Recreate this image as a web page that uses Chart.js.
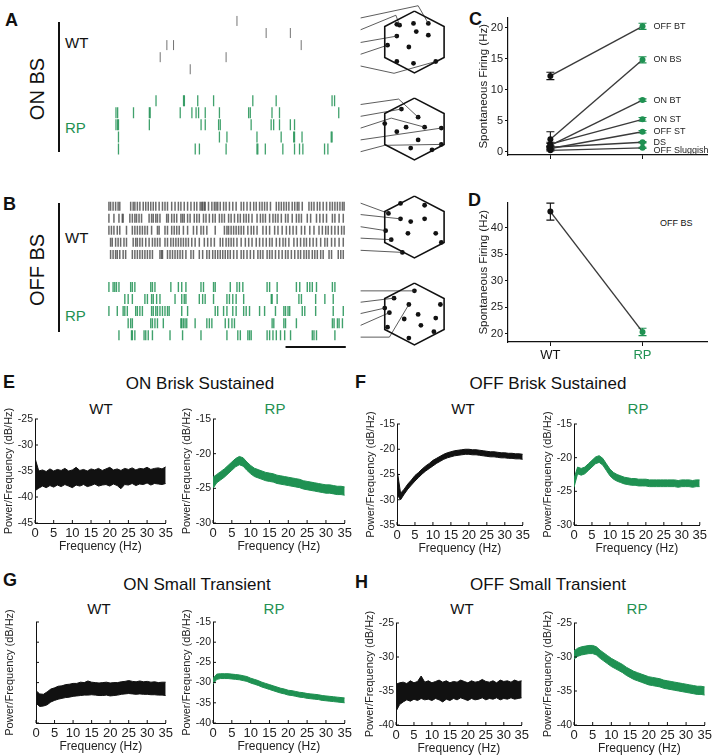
<!DOCTYPE html>
<html>
<head>
<meta charset="utf-8">
<script src="https://cdn.jsdelivr.net/npm/chart.js@4.4.1/dist/chart.umd.min.js"></script>
<style>
  body { margin: 0; background: #fff; font-family: "Liberation Sans", Arial, sans-serif; }
  #fig { position: relative; width: 712px; height: 755px; overflow: hidden; background: #fff; }
  canvas { position: absolute; }
  .t { position: absolute; white-space: nowrap; line-height: 1; color: #111; }
  .lt { font-weight: bold; font-size: 18px; }
  .ttl { font-size: 17px; transform: translateX(-50%); }
  .sub { font-size: 15px; transform: translateX(-50%); }
  .rot { font-size: 20px; transform: translate(-50%, -50%) rotate(-90deg); }
  .g { color: #1f9152; }
  .vl { position: absolute; width: 1.5px; background: #111; }
</style>
</head>
<body>
<div id="fig">
  <div class="t lt" style="left:5px;top:11px">A</div>
  <div class="t lt" style="left:3px;top:195px">B</div>
  <div class="t lt" style="left:469px;top:10px">C</div>
  <div class="t lt" style="left:468px;top:191px">D</div>
  <div class="t lt" style="left:3px;top:373px">E</div>
  <div class="t lt" style="left:355px;top:373px">F</div>
  <div class="t lt" style="left:3px;top:571px">G</div>
  <div class="t lt" style="left:355px;top:573px">H</div>

  <div class="t rot" style="left:37px;top:89px">ON BS</div>
  <div class="t rot" style="left:37px;top:270px">OFF BS</div>
  <div class="vl" style="left:58px;top:22px;height:130px"></div>
  <div class="vl" style="left:58px;top:203px;height:129px"></div>
  <div class="t" style="left:65px;top:35px;font-size:15px">WT</div>
  <div class="t g" style="left:65px;top:120px;font-size:15px">RP</div>
  <div class="t" style="left:65px;top:230px;font-size:15px">WT</div>
  <div class="t g" style="left:65px;top:308px;font-size:15px">RP</div>

  <div class="t" style="left:660px;top:219px;font-size:9px">OFF BS</div>

  <div class="t ttl" style="left:200px;top:375px">ON Brisk Sustained</div>
  <div class="t ttl" style="left:548px;top:375px">OFF Brisk Sustained</div>
  <div class="t ttl" style="left:197px;top:576px">ON Small Transient</div>
  <div class="t ttl" style="left:548px;top:576px">OFF Small Transient</div>

  <div class="t sub" style="left:101px;top:401px">WT</div>
  <div class="t sub g" style="left:275px;top:401px">RP</div>
  <div class="t sub" style="left:463px;top:401px">WT</div>
  <div class="t sub g" style="left:638px;top:401px">RP</div>
  <div class="t sub" style="left:99px;top:601px">WT</div>
  <div class="t sub g" style="left:274px;top:601px">RP</div>
  <div class="t sub" style="left:462px;top:601px">WT</div>
  <div class="t sub g" style="left:637px;top:601px">RP</div>
</div>

<script>
// ===== Data =====

// spike rasters, spike times in s (5 trials per group)
const onWtSpikes = [
  [1.56],
  [1.91, 2.20],
  [0.72, 0.80, 2.33],
  [0.64, 1.43],
  [1.00]
];
const onRpSpikes = [
  [0.59, 0.92, 0.93, 1.09, 1.28, 1.75, 2.03, 2.70, 2.73],
  [0.11, 0.13, 0.32, 0.51, 0.52, 0.88, 1.02, 1.07, 1.10, 1.18, 1.35, 1.70, 1.72, 1.98, 2.07, 2.78],
  [0.11, 0.13, 0.14, 0.51, 1.13, 1.18, 1.34, 1.36, 1.73, 1.97, 2.00, 2.07, 2.20, 2.25],
  [0.14, 1.35, 1.44, 1.80, 2.09, 2.24, 2.25, 2.34, 2.69, 2.70],
  [0.14, 1.06, 1.11, 1.43, 1.80, 1.81, 1.90, 2.11, 2.25, 2.31, 2.35, 2.61, 2.65]
];
const offWtSpikes = [
  [0.03, 0.05, 0.08, 0.11, 0.14, 0.16, 0.29, 0.32, 0.34, 0.37, 0.40, 0.44, 0.47, 0.50, 0.53, 0.56, 0.59, 0.63, 0.67, 0.70,
   0.73, 0.78, 0.82, 0.86, 0.89, 0.93, 0.97, 1.01, 1.05, 1.08, 1.12, 1.14, 1.15, 1.17, 1.18, 1.22, 1.26, 1.29, 1.31, 1.33,
   1.36, 1.40, 1.43, 1.47, 1.51, 1.55, 1.61, 1.64, 1.68, 1.72, 1.76, 1.79, 1.83, 1.86, 1.89, 1.92, 1.96, 2.03, 2.06, 2.09,
   2.12, 2.15, 2.18, 2.22, 2.25, 2.28, 2.30, 2.34, 2.42, 2.45, 2.48, 2.52, 2.55, 2.59, 2.63, 2.67, 2.70, 2.73, 2.76, 2.79, 2.82, 2.84],
  [0.03, 0.09, 0.15, 0.19, 0.20, 0.28, 0.31, 0.34, 0.36, 0.39, 0.42, 0.51, 0.54, 0.56, 0.59, 0.61, 0.64, 0.72, 0.74, 0.78,
   0.81, 0.84, 0.89, 0.91, 0.93, 0.97, 1.00, 1.05, 1.08, 1.11, 1.16, 1.19, 1.23, 1.27, 1.30, 1.35, 1.38, 1.41, 1.46, 1.49,
   1.53, 1.57, 1.60, 1.64, 1.67, 1.70, 1.74, 1.80, 1.84, 1.87, 1.90, 1.95, 1.99, 2.02, 2.05, 2.09, 2.14, 2.17, 2.22, 2.27,
   2.30, 2.33, 2.40, 2.44, 2.51, 2.55, 2.59, 2.63, 2.70, 2.73, 2.78, 2.83],
  [0.03, 0.06, 0.09, 0.13, 0.16, 0.24, 0.31, 0.34, 0.37, 0.40, 0.43, 0.46, 0.49, 0.54, 0.61, 0.63, 0.70, 0.73, 0.78, 0.81,
   0.84, 0.87, 0.92, 0.97, 1.04, 1.08, 1.13, 1.16, 1.20, 1.30, 1.41, 1.44, 1.46, 1.49, 1.52, 1.55, 1.58, 1.61, 1.64, 1.69,
   1.73, 1.76, 1.80, 1.87, 1.91, 1.95, 2.01, 2.05, 2.10, 2.15, 2.19, 2.23, 2.27, 2.33, 2.37, 2.43, 2.48, 2.54, 2.58, 2.62,
   2.65, 2.69, 2.73, 2.77, 2.81, 2.84],
  [0.05, 0.07, 0.11, 0.14, 0.17, 0.21, 0.24, 0.32, 0.35, 0.37, 0.40, 0.43, 0.47, 0.51, 0.55, 0.58, 0.61, 0.64, 0.70, 0.73,
   0.77, 0.80, 0.83, 0.86, 0.89, 0.92, 0.95, 0.98, 1.02, 1.06, 1.11, 1.17, 1.21, 1.25, 1.29, 1.36, 1.39, 1.43, 1.46, 1.49,
   1.52, 1.56, 1.61, 1.66, 1.70, 1.74, 1.79, 1.83, 1.87, 1.91, 1.95, 1.98, 2.03, 2.07, 2.11, 2.14, 2.18, 2.24, 2.28, 2.32,
   2.36, 2.39, 2.43, 2.47, 2.51, 2.56, 2.61, 2.64, 2.69, 2.73, 2.78, 2.83],
  [0.05, 0.08, 0.11, 0.13, 0.16, 0.20, 0.23, 0.31, 0.34, 0.37, 0.40, 0.43, 0.46, 0.49, 0.52, 0.55, 0.64, 0.66, 0.67, 0.73,
   0.76, 0.79, 0.82, 0.85, 0.88, 0.91, 0.95, 1.01, 1.04, 1.11, 1.15, 1.20, 1.23, 1.27, 1.30, 1.33, 1.36, 1.39, 1.42, 1.45,
   1.48, 1.52, 1.56, 1.61, 1.64, 1.68, 1.72, 1.76, 1.81, 1.84, 1.87, 1.92, 1.95, 1.98, 2.02, 2.06, 2.10, 2.14, 2.17, 2.21,
   2.25, 2.29, 2.32, 2.36, 2.39, 2.42, 2.46, 2.49, 2.52, 2.56, 2.59, 2.66, 2.69, 2.77, 2.80, 2.83]
];
const offRpSpikes = [
  [0.03, 0.08, 0.10, 0.12, 0.15, 0.29, 0.31, 0.34, 0.53, 0.55, 0.58, 0.77, 0.86, 0.90, 0.95, 1.13, 1.16, 1.28, 1.30, 1.48,
   1.56, 1.59, 1.63, 1.92, 1.95, 2.04, 2.27, 2.31, 2.40, 2.43, 2.46, 2.51, 2.70, 2.73],
  [0.22, 0.26, 0.31, 0.46, 0.49, 0.54, 0.56, 0.60, 0.64, 0.82, 0.90, 0.93, 0.95, 1.11, 1.15, 1.18, 1.28, 1.44, 1.47, 1.51,
   1.55, 1.64, 1.97, 1.98, 2.04, 2.30, 2.33, 2.50, 2.61, 2.71],
  [0.03, 0.13, 0.20, 0.22, 0.25, 0.35, 0.37, 0.40, 0.43, 0.54, 0.56, 0.59, 0.61, 0.64, 0.67, 0.70, 0.73, 0.75, 0.90, 0.97,
   1.30, 1.33, 1.40, 1.44, 1.51, 1.55, 1.64, 1.67, 1.71, 1.83, 1.89, 2.02, 2.12, 2.14, 2.17, 2.19, 2.34, 2.37, 2.50, 2.71, 2.83],
  [0.26, 0.29, 0.31, 0.53, 0.55, 0.58, 0.61, 0.68, 0.89, 0.90, 0.92, 0.94, 0.96, 1.06, 1.20, 1.23, 1.26, 1.42, 1.46, 1.50,
   1.53, 1.98, 2.00, 2.12, 2.14, 2.27, 2.70, 2.72, 2.76, 2.78, 2.82],
  [0.15, 0.30, 0.31, 0.34, 0.45, 0.47, 0.50, 0.55, 0.76, 0.91, 1.13, 1.44, 1.57, 1.60, 1.69, 1.71, 1.73, 1.92, 1.95, 1.99,
   2.03, 2.08, 2.13, 2.20, 2.46, 2.48, 2.51, 2.73]
];
const scaleBarSec = 0.72;

// recorded cell positions in the array field (hexagon-centred units)
const hexOutline = [[0, -34], [32, -17], [32, 17], [0, 34], [-32, 17], [-32, -17], [0, -34]];
const onWtCells = [[-19, -19.5], [-16, -18.5], [-1, -20.5], [15, -20.5], [-19, -6.5], [2, -11.5], [15, -7.5],
  [-29, 3.5], [-6, 5.5], [-19, 21.5], [-1, 23.5], [23, 21.5]];
const onRpCells = [[-14, -22], [4, -13], [-32, -6], [-9, -2], [11, -2], [29, -1], [-19, 3], [4, 12], [29, 17], [-4, 21], [19, 23]];
const offWtCells = [[-15, -26], [11, -24], [-28, -15], [-15, -9], [-4, -6], [11, -9], [-31, 4], [-7, 7], [23, 7],
  [-25, 14], [29, 17], [-13, 28]];
const offRpCells = [[0, -25.5], [-22, -17.5], [-6, -10.5], [28, -10.5], [-32, -6.5], [-27, -1.5], [4, 0.5], [-11, 5.5],
  [23, 4.5], [7, 12.5], [-29, 14.5], [21, 19.5], [-6, 26.5]];
const onWtLinks = [[[-58, -26.5], [4, -40], [15, -20.5]], [[-58, -13.5], [-20, -29.5], [-16, -18.5]],
  [[-58, 0.5], [-19, -6.5]], [[-58, 13.5], [-29, 3.5]], [[-58, 26.5], [-22, 34.5], [23, 21.5]]];
const onRpLinks = [[[-58, -27], [-17, -33], [4, -13]], [[-58, -14], [-14, -22]], [[-58, -1], [-25, -12], [11, -2]],
  [[-58, 12], [29, -1]], [[-58, 25], [-32, 18], [29, 17]]];
const offWtLinks = [[[-58, -26.3], [-28, -15]], [[-58, -13.7], [-15, -9]], [[-58, -0.3], [-31, 4]],
  [[-58, 12.3], [-25, 14]], [[-58, 25.7], [-13, 28]]];
const offRpLinks = [[[-58, -25.5], [0, -25.5]], [[-58, -13], [-22, -17.5]], [[-58, -0.5], [-32, -6.5]],
  [[-58, 12.5], [-27, -1.5]], [[-58, 25.5], [-27, 25.5], [-6, -10.5]]];

// C: spontaneous firing (Hz), mean and SEM
const cellTypes = ['OFF BT', 'ON BS', 'ON BT', 'ON ST', 'OFF ST', 'DS', 'OFF Sluggish'];
const wtRate = [12.2, 2.0, 1.0, 1.2, 0.5, 0.7, 0.2];
const wtSem = [0.6, 1.2, 0.3, 0.3, 0.2, 0.2, 0.1];
const rpRate = [20.2, 14.8, 8.3, 5.2, 3.2, 1.5, 0.6];
const rpSem = [0.5, 0.5, 0.2, 0.3, 0.2, 0.1, 0.1];

// D: OFF BS spontaneous firing (Hz)
const groups = ['WT', 'RP'];
const offBsRate = [43.0, 20.3];
const offBsSem = [1.6, 0.7];

// E-H: power spectral density (dB/Hz), upper and lower edge of the trace
const freqHz = [0, 1, 2, 3, 4, 5, 6, 7, 8, 9, 10, 11, 12, 13, 14, 15, 16, 17, 18, 19, 20, 21, 22, 23, 24, 25, 26, 27, 28, 29, 30, 31, 32, 33, 34, 35];
const freqTicks = [0, 5, 10, 15, 20, 25, 30, 35];

const onBsWtHi = [-32.5,-35.0,-34.8,-35.1,-34.6,-35.0,-34.7,-34.9,-34.5,-35.0,-34.8,-34.3,-34.9,-34.7,-35.0,-34.6,-34.8,-34.5,-34.9,-34.6,-34.3,-34.8,-34.6,-34.9,-34.5,-34.7,-34.4,-34.8,-34.5,-34.6,-34.3,-34.7,-34.5,-34.4,-34.6,-34.2];
const onBsWtLo = [-38.8,-38.3,-37.9,-38.2,-37.8,-38.1,-37.7,-38.0,-37.6,-37.9,-38.2,-37.7,-37.9,-37.6,-38.0,-37.8,-37.5,-37.9,-37.7,-37.6,-37.9,-37.5,-37.8,-38.4,-37.6,-37.7,-37.4,-37.8,-37.5,-37.6,-37.3,-37.7,-37.4,-37.5,-37.6,-37.4];
const onBsRpHi = [-23.4,-23.0,-22.6,-22.2,-21.7,-21.2,-20.7,-20.4,-20.6,-21.2,-21.7,-22.1,-22.3,-22.5,-22.7,-22.8,-22.9,-23.1,-23.2,-23.3,-23.4,-23.5,-23.6,-23.7,-23.9,-24.0,-24.1,-24.2,-24.3,-24.4,-24.5,-24.5,-24.6,-24.7,-24.7,-24.8];
const onBsRpLo = [-25.0,-24.2,-23.8,-23.4,-22.9,-22.4,-21.9,-21.6,-21.8,-22.4,-22.9,-23.3,-23.5,-23.7,-23.9,-24.0,-24.1,-24.3,-24.4,-24.5,-24.6,-24.7,-24.8,-24.9,-25.1,-25.2,-25.3,-25.4,-25.5,-25.6,-25.7,-25.7,-25.8,-25.9,-25.9,-26.0];

const offBsWtHi = [-24.0,-28.7,-27.9,-26.9,-26.1,-25.2,-24.6,-23.9,-23.3,-22.8,-22.2,-21.8,-21.4,-21.0,-20.7,-20.5,-20.3,-20.2,-20.1,-20.0,-20.0,-20.1,-20.1,-20.2,-20.3,-20.4,-20.5,-20.5,-20.6,-20.7,-20.7,-20.8,-20.8,-20.9,-20.9,-21.0];
const offBsWtLo = [-29.0,-30.0,-28.9,-27.9,-27.1,-26.3,-25.6,-24.9,-24.3,-23.8,-23.3,-22.8,-22.4,-22.0,-21.7,-21.5,-21.3,-21.2,-21.1,-21.0,-21.0,-21.1,-21.1,-21.2,-21.3,-21.4,-21.5,-21.5,-21.6,-21.7,-21.7,-21.8,-21.8,-21.9,-21.9,-22.0];
const offBsRpHi = [-23.1,-21.4,-21.6,-21.4,-20.9,-20.4,-19.9,-19.7,-20.1,-20.9,-21.7,-22.2,-22.5,-22.7,-22.9,-23.0,-23.1,-23.1,-23.2,-23.2,-23.2,-23.3,-23.3,-23.3,-23.3,-23.3,-23.3,-23.3,-23.3,-23.4,-23.3,-23.3,-23.3,-23.4,-23.3,-23.3];
const offBsRpLo = [-24.4,-22.4,-22.6,-22.4,-21.9,-21.4,-20.9,-20.7,-21.1,-21.9,-22.7,-23.2,-23.5,-23.7,-23.9,-24.0,-24.1,-24.1,-24.2,-24.2,-24.2,-24.3,-24.3,-24.3,-24.3,-24.3,-24.3,-24.3,-24.3,-24.4,-24.3,-24.3,-24.3,-24.4,-24.3,-24.3];

const onStWtHi = [-32.0,-32.8,-32.9,-32.3,-31.6,-31.3,-30.9,-30.8,-30.5,-30.4,-30.2,-30.2,-29.9,-30.0,-29.6,-29.9,-30.0,-30.1,-30.0,-29.9,-30.1,-30.0,-30.0,-29.8,-29.7,-29.5,-29.7,-29.8,-29.6,-29.8,-29.7,-29.9,-29.8,-30.0,-29.9,-29.9];
const onStWtLo = [-35.1,-35.9,-35.8,-35.5,-34.8,-34.4,-34.1,-33.9,-33.7,-33.6,-33.4,-33.3,-33.2,-33.1,-33.1,-33.0,-33.1,-33.2,-33.2,-33.1,-33.3,-33.2,-33.1,-32.9,-32.8,-32.7,-32.8,-32.9,-32.8,-32.9,-32.9,-33.0,-33.0,-33.1,-33.1,-33.2];
const onStRpHi = [-29.0,-27.9,-27.8,-27.8,-27.8,-27.9,-28.0,-28.1,-28.3,-28.5,-28.9,-29.2,-29.5,-29.9,-30.2,-30.5,-30.8,-31.1,-31.4,-31.6,-31.9,-32.0,-32.2,-32.4,-32.5,-32.7,-32.8,-32.9,-33.0,-33.2,-33.3,-33.4,-33.5,-33.6,-33.7,-33.8];
const onStRpLo = [-30.4,-29.2,-29.0,-29.0,-29.0,-29.1,-29.2,-29.3,-29.5,-29.7,-30.1,-30.4,-30.7,-31.1,-31.4,-31.7,-32.0,-32.3,-32.6,-32.8,-33.1,-33.2,-33.4,-33.6,-33.7,-33.9,-34.0,-34.1,-34.2,-34.4,-34.5,-34.6,-34.7,-34.8,-34.9,-35.0];

const offStWtHi = [-34.0,-33.8,-33.7,-33.9,-33.5,-33.8,-33.6,-32.8,-33.7,-33.5,-33.8,-33.6,-33.4,-33.7,-33.5,-33.8,-33.6,-33.7,-33.4,-33.6,-33.8,-33.5,-33.7,-33.6,-33.3,-33.6,-33.7,-33.5,-33.8,-33.4,-33.6,-33.5,-33.7,-33.4,-33.6,-33.5];
const offStWtLo = [-38.0,-37.0,-36.6,-36.3,-36.5,-36.2,-36.4,-36.1,-36.3,-36.2,-36.4,-36.1,-36.3,-36.6,-36.2,-36.4,-36.1,-36.3,-36.0,-36.2,-36.4,-36.1,-36.3,-36.2,-36.0,-36.3,-36.1,-36.2,-36.0,-36.3,-36.1,-36.2,-36.0,-36.2,-36.1,-36.0];
const offStRpHi = [-29.1,-28.7,-28.5,-28.4,-28.3,-28.3,-28.5,-29.0,-29.4,-29.8,-30.2,-30.5,-30.8,-31.1,-31.5,-31.8,-32.1,-32.3,-32.5,-32.7,-32.9,-33.0,-33.1,-33.2,-33.4,-33.5,-33.6,-33.7,-33.8,-33.9,-34.0,-34.1,-34.2,-34.3,-34.3,-34.4];
const offStRpLo = [-30.3,-29.9,-29.7,-29.6,-29.5,-29.5,-29.7,-30.2,-30.6,-31.0,-31.4,-31.7,-32.0,-32.3,-32.7,-33.0,-33.3,-33.5,-33.7,-33.9,-34.1,-34.2,-34.3,-34.4,-34.6,-34.7,-34.8,-34.9,-35.0,-35.1,-35.2,-35.3,-35.4,-35.5,-35.5,-35.6];

// ===== Helpers =====
const FONT = '"Liberation Sans", Arial, sans-serif';
const GREEN = '#1f9152';
const INK = '#222';
Chart.defaults.font.family = FONT;
Chart.defaults.color = INK;
Chart.defaults.animation = false;
Chart.defaults.events = [];
Chart.defaults.plugins.legend.display = false;
Chart.defaults.plugins.tooltip.enabled = false;

const fig = document.getElementById('fig');
function makeCanvas(left, top, w, h) {
  const c = document.createElement('canvas');
  c.width = w; c.height = h;
  c.style.left = left + 'px'; c.style.top = top + 'px';
  c.style.width = w + 'px'; c.style.height = h + 'px';
  fig.appendChild(c);
  return c;
}

// ===== Rasters (A, B) =====
const PX_PER_S = 88;
function rasterChart(top, h, rowPx, firstRowPx, sets, extraPlugins) {
  const left = 100, w = 262;
  const yMin = -(firstRowPx - top) / rowPx;
  const datasets = [];
  sets.forEach(s => {
    s.trials.forEach((trial, i) => {
      datasets.push({
        data: trial.map(t => ({ x: t, y: s.row0 + i })),
        pointStyle: 'line', pointRotation: 90, pointRadius: s.len / 2,
        pointBorderWidth: s.width, pointBorderColor: s.color, pointBackgroundColor: s.color,
        showLine: false
      });
    });
  });
  new Chart(makeCanvas(left, top, w, h), {
    type: 'scatter',
    data: { datasets },
    options: {
      responsive: false,
      layout: { padding: 0 },
      scales: {
        x: { type: 'linear', min: 0, max: w / PX_PER_S, display: false },
        y: { type: 'linear', min: yMin, max: yMin + h / rowPx, reverse: true, display: false }
      }
    },
    plugins: extraPlugins || []
  });
}

rasterChart(5, 160, 13.2, 15, [
  { trials: onWtSpikes, row0: 0, color: 'rgba(90,90,90,0.85)', len: 10, width: 1 },
  { trials: onRpSpikes, row0: 6.6, color: 'rgba(31,145,82,0.85)', len: 11, width: 1.3 }
]);

const scaleBar = {
  id: 'scaleBar',
  afterDraw(chart) {
    const { ctx, scales: { x, y } } = chart;
    const xr = x.getPixelForValue(2.86);
    const xl = x.getPixelForValue(2.86 - scaleBarSec);
    const yy = y.getPixelForValue(11.7);
    ctx.save();
    ctx.strokeStyle = '#111'; ctx.lineWidth = 2;
    ctx.beginPath(); ctx.moveTo(xl, yy); ctx.lineTo(xr, yy); ctx.stroke();
    ctx.restore();
  }
};
rasterChart(190, 170, 13, 200.7, [
  { trials: offWtSpikes, row0: 0, color: 'rgba(70,70,70,0.8)', len: 9, width: 1.5 },
  { trials: offRpSpikes, row0: 6.72, color: 'rgba(31,145,82,0.85)', len: 10, width: 1.4 }
], [scaleBar]);

// ===== Array maps (hexagons) =====
function hexChart(cx, cy, cells, links) {
  const datasets = [
    { data: hexOutline.map(p => ({ x: p[0], y: p[1] })), showLine: true, borderColor: '#111', borderWidth: 1.6, pointRadius: 0 }
  ];
  links.forEach(l => datasets.push({
    data: l.map(p => ({ x: p[0], y: p[1] })), showLine: true, borderColor: '#333', borderWidth: 0.8, pointRadius: 0
  }));
  datasets.push({
    data: cells.map(p => ({ x: p[0], y: p[1] })), showLine: false,
    pointRadius: 2.4, pointBackgroundColor: '#111', pointBorderColor: '#111', pointBorderWidth: 0
  });
  new Chart(makeCanvas(cx - 63, cy - 43, 110, 86), {
    type: 'scatter',
    data: { datasets },
    options: {
      responsive: false,
      layout: { padding: 0 },
      scales: {
        x: { type: 'linear', min: -63, max: 47, display: false },
        y: { type: 'linear', min: -43, max: 43, reverse: true, display: false }
      }
    }
  });
}
hexChart(415, 41.5, onWtCells, onWtLinks);
hexChart(415, 129, onRpCells, onRpLinks);
hexChart(415, 227, offWtCells, offWtLinks);
hexChart(415, 313.5, offRpCells, offRpLinks);

// ===== Spontaneous firing (C, D) =====
function errBars(chart, xVal, means, sems, color) {
  const { ctx, scales: { x, y } } = chart;
  const px = x.getPixelForValue(xVal);
  ctx.save();
  ctx.strokeStyle = color; ctx.lineWidth = 1.1;
  means.forEach((m, i) => {
    const top = y.getPixelForValue(m + sems[i]);
    const bot = y.getPixelForValue(m - sems[i]);
    ctx.beginPath();
    ctx.moveTo(px, top); ctx.lineTo(px, bot);
    ctx.moveTo(px - 4, top); ctx.lineTo(px + 4, top);
    ctx.moveTo(px - 4, bot); ctx.lineTo(px + 4, bot);
    ctx.stroke();
  });
  ctx.restore();
}

function rateScales(yMin, yMax, xHeight, xLabels) {
  return {
    x: {
      type: 'linear', min: -0.46, max: 1.7,
      afterBuildTicks: s => { s.ticks = [{ value: 0 }, { value: 1 }]; },
      afterFit: s => { s.height = xHeight; },
      grid: { drawOnChartArea: false, drawTicks: true, tickLength: 4, color: '#111' },
      border: { color: '#111', width: 1.2 },
      ticks: {
        display: xLabels, padding: 2, font: { size: 13 },
        callback: v => groups[v] || '',
        color: c => (c.tick && c.tick.value === 1 ? GREEN : '#111')
      }
    },
    y: {
      type: 'linear', min: yMin, max: yMax,
      afterFit: s => { s.width = 32; },
      grid: { drawOnChartArea: false, drawTicks: true, tickLength: 3, color: '#111' },
      border: { color: '#111', width: 1.2 },
      ticks: { stepSize: 5, includeBounds: false, padding: 2, font: { size: 11 }, color: INK },
      title: { display: true, text: 'Spontaneous Firing (Hz)', font: { size: 11.5 }, color: INK, padding: { top: 1, bottom: 0 } }
    }
  };
}

// C
new Chart(makeCanvas(476, 9, 236, 156), {
  type: 'scatter',
  data: {
    datasets: cellTypes.map((name, i) => ({
      label: name,
      data: [{ x: 0, y: wtRate[i] }, { x: 1, y: rpRate[i] }],
      showLine: true, borderColor: '#3a3a3a', borderWidth: 1.4,
      pointRadius: 3, pointBackgroundColor: ['#111', GREEN], pointBorderColor: ['#111', GREEN], pointBorderWidth: 0
    }))
  },
  options: {
    responsive: false,
    layout: { padding: { left: 0, top: 8, right: 5, bottom: 0 } },
    scales: rateScales(-0.55, 21.6, 10, false)
  },
  plugins: [{
    id: 'cExtras',
    beforeDatasetsDraw(chart) {
      errBars(chart, 0, wtRate, wtSem, '#111');
      errBars(chart, 1, rpRate, rpSem, GREEN);
    },
    afterDatasetsDraw(chart) {
      const { ctx, scales: { x, y } } = chart;
      ctx.save();
      ctx.font = '9px ' + FONT;
      ctx.fillStyle = INK;
      ctx.textBaseline = 'middle';
      cellTypes.forEach((name, i) => {
        const nudge = i === cellTypes.length - 1 ? 3 : 0;
        ctx.fillText(name, x.getPixelForValue(1) + 11, y.getPixelForValue(rpRate[i]) + nudge);
      });
      ctx.restore();
    }
  }]
});

// D
new Chart(makeCanvas(476, 194, 236, 172), {
  type: 'scatter',
  data: {
    datasets: [{
      data: offBsRate.map((v, i) => ({ x: i, y: v })),
      showLine: true, borderColor: '#3a3a3a', borderWidth: 1.4,
      pointRadius: 3, pointBackgroundColor: ['#111', GREEN], pointBorderColor: ['#111', GREEN], pointBorderWidth: 0
    }]
  },
  options: {
    responsive: false,
    layout: { padding: { left: 0, top: 8, right: 5, bottom: 0 } },
    scales: rateScales(18.4, 44.7, 24, true)
  },
  plugins: [{
    id: 'dErr',
    beforeDatasetsDraw(chart) {
      errBars(chart, 0, [offBsRate[0]], [offBsSem[0]], '#111');
      errBars(chart, 1, [offBsRate[1]], [offBsSem[1]], GREEN);
    }
  }]
});

// ===== Power spectra (E-H) =====
// inward tick marks plus a y title that may run past the axis ends (as in the original)
const psdDecor = {
  id: 'psdDecor',
  afterDraw(chart) {
    const { ctx, chartArea: a, scales: { x, y } } = chart;
    ctx.save();
    ctx.strokeStyle = '#111'; ctx.lineWidth = 1;
    ctx.beginPath();
    y.ticks.forEach(t => { const p = y.getPixelForValue(t.value); ctx.moveTo(a.left, p); ctx.lineTo(a.left + 3, p); });
    x.ticks.forEach(t => { const p = x.getPixelForValue(t.value); ctx.moveTo(p, a.bottom); ctx.lineTo(p, a.bottom - 3); });
    ctx.stroke();
    ctx.translate(a.left - 26, (a.top + a.bottom) / 2);
    ctx.rotate(-Math.PI / 2);
    ctx.font = '11px ' + FONT;
    ctx.fillStyle = INK;
    ctx.textAlign = 'center';
    ctx.textBaseline = 'middle';
    ctx.fillText('Power/Frequency (dB/Hz)', 0, 0);
    ctx.restore();
  }
};

function psdChart(area, yMin, yMax, hi, lo, color, showYLabels) {
  const [L, T, R, B] = area;
  const YW = 34, XH = 31, PT = 20, PR = 10;
  const cv = makeCanvas(L - YW, T - PT, YW + (R - L) + PR, PT + (B - T) + XH);
  new Chart(cv, {
    type: 'line',
    data: {
      datasets: [
        { data: freqHz.map((f, i) => ({ x: f, y: lo[i] })), borderColor: color, borderWidth: 1, pointRadius: 0, fill: false },
        { data: freqHz.map((f, i) => ({ x: f, y: hi[i] })), borderColor: color, borderWidth: 1, pointRadius: 0, fill: '-1', backgroundColor: color }
      ]
    },
    options: {
      responsive: false,
      layout: { padding: { left: 0, top: PT, right: PR, bottom: 0 } },
      scales: {
        x: {
          type: 'linear', min: 0, max: 35,
          afterBuildTicks: s => { s.ticks = freqTicks.map(v => ({ value: v })); },
          afterFit: s => { s.height = XH; },
          grid: { drawOnChartArea: false, drawTicks: false },
          border: { color: '#111', width: 1 },
          ticks: { font: { size: 13 }, color: INK, padding: 3, maxRotation: 0, autoSkip: false },
          title: { display: true, text: 'Frequency (Hz)', font: { size: 12 }, color: INK, padding: { top: 0, bottom: 0 } }
        },
        y: {
          type: 'linear', min: yMin, max: yMax,
          afterFit: s => { s.width = YW; },
          grid: { drawOnChartArea: false, drawTicks: false },
          border: { color: '#111', width: 1 },
          ticks: { display: showYLabels, stepSize: 5, font: { size: 10.5 }, color: INK, padding: 2 }
        }
      }
    },
    plugins: [psdDecor]
  });
}

const WT_INK = '#111';
psdChart([35, 419, 166, 523], -45, -25, onBsWtHi, onBsWtLo, WT_INK, true);
psdChart([213, 419, 345, 523], -30, -15, onBsRpHi, onBsRpLo, GREEN, true);
psdChart([397, 424, 523, 525], -35, -15, offBsWtHi, offBsWtLo, WT_INK, true);
psdChart([574, 424, 700, 525], -30, -15, offBsRpHi, offBsRpLo, GREEN, true);
psdChart([36, 622, 166, 723], -40, -15, onStWtHi, onStWtLo, WT_INK, false);
psdChart([213, 622, 345, 723], -40, -15, onStRpHi, onStRpLo, GREEN, true);
psdChart([396, 623, 522, 725], -40, -25, offStWtHi, offStWtLo, WT_INK, true);
psdChart([574, 623, 705, 725], -40, -25, offStRpHi, offStRpLo, GREEN, true);
</script>
</body>
</html>
